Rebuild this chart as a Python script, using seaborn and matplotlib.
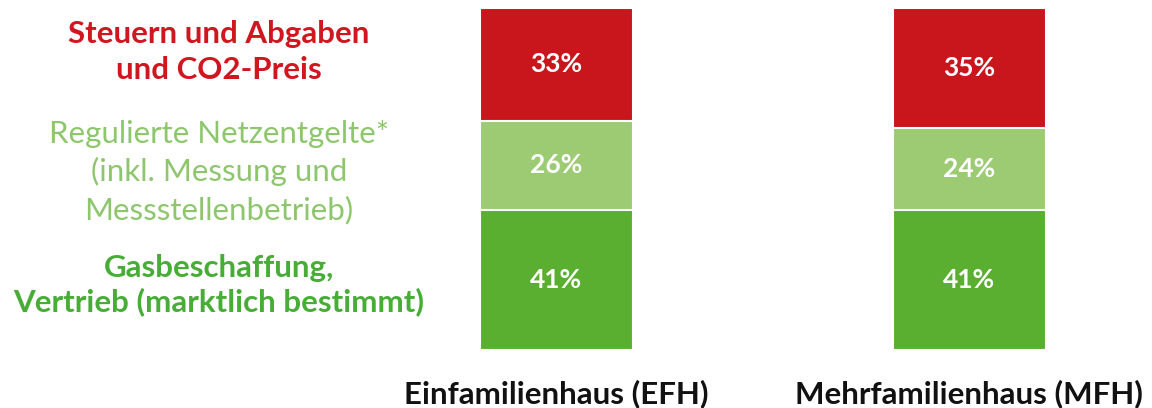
import matplotlib
matplotlib.use('Agg')
import matplotlib.pyplot as plt
import seaborn as sns
import numpy as np
import pandas as pd

# Daten
haustypen = ['EFH', 'MFH']
haus_labels = ['Einfamilienhaus (EFH)', 'Mehrfamilienhaus (MFH)']
gasbeschaffung = [41, 41]
netzentgelte = [26, 24]
steuern = [33, 35]

segment_namen = ['Steuern und Abgaben\nund CO2-Preis',
                 'Regulierte Netzentgelte*\n(inkl. Messung und\nMessstellenbetrieb)',
                 'Gasbeschaffung,\nVertrieb (marktlich bestimmt)']

rot = '#C8161C'
hellgruen = '#9CCB74'
gruen = '#5AAF30'

sns.set_theme(style='white')
plt.rcParams['font.family'] = ['Lato', 'DejaVu Sans']

fig = plt.figure(figsize=(11.52, 4.08), dpi=100)
ax = fig.add_axes([0.3217, 0.1422, 0.6632, 0.8382])

# Kumulierte Höhen (gestapelt durch Überlagerung)
df = pd.DataFrame({'haus': haustypen,
                   'unten': gasbeschaffung,
                   'mitte': np.add(gasbeschaffung, netzentgelte),
                   'oben': np.add(np.add(gasbeschaffung, netzentgelte), steuern)})

for col, farbe in [('oben', rot), ('mitte', hellgruen), ('unten', gruen)]:
    sns.barplot(data=df, x='haus', y=col, order=haustypen, color=farbe,
                width=0.37, edgecolor='white', linewidth=1.5, saturation=1, ax=ax)

# Prozentwerte in den Balken
for i in range(len(haustypen)):
    werte = [gasbeschaffung[i], netzentgelte[i], steuern[i]]
    unten = 0
    for w in werte:
        ax.text(i, unten + w / 2, f'{w}%', ha='center', va='center',
                color='white', fontsize=19, fontweight='bold')
        unten += w

ax.set_xlim(-0.45, 1.4)
ax.set_ylim(0, 100)
ax.set_xlabel('')
ax.set_ylabel('')
ax.set_yticks([])
ax.set_xticks(range(len(haustypen)))
ax.set_xticklabels(haus_labels, fontsize=22.5, fontweight='bold', color='#111111')
ax.tick_params(axis='x', length=0, pad=21)
sns.despine(ax=ax, left=True, bottom=True)

# Legende links als Text
fig.text(219 / 1152, 1 - 52 / 408, segment_namen[0], ha='center', va='center',
         color='#D0161E', fontsize=22.5, fontweight='bold', linespacing=1.32)
fig.text(219 / 1152, 1 - 172 / 408, segment_namen[1], ha='center', va='center',
         color='#8DC66C', fontsize=22.5, linespacing=1.4)
fig.text(219 / 1152, 1 - 285 / 408, segment_namen[2], ha='center', va='center',
         color='#47AD36', fontsize=22.5, fontweight='bold', linespacing=1.25)

fig.savefig('out.png', dpi=100, facecolor='white')
